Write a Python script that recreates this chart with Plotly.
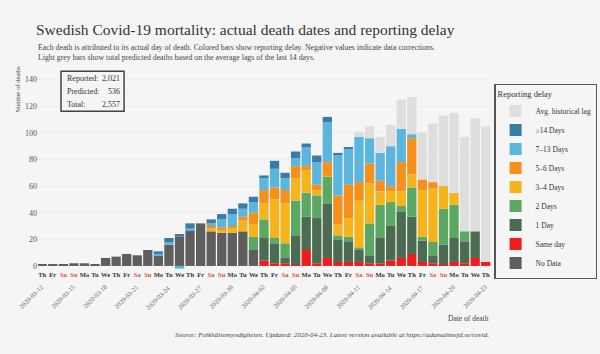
import plotly.graph_objects as go

dates = ["2020-03-12","2020-03-13","2020-03-14","2020-03-15","2020-03-16","2020-03-17","2020-03-18",
         "2020-03-19","2020-03-20","2020-03-21","2020-03-22","2020-03-23","2020-03-24","2020-03-25",
         "2020-03-26","2020-03-27","2020-03-28","2020-03-29","2020-03-30","2020-03-31","2020-04-01",
         "2020-04-02","2020-04-03","2020-04-04","2020-04-05","2020-04-06","2020-04-07","2020-04-08",
         "2020-04-09","2020-04-10","2020-04-11","2020-04-12","2020-04-13","2020-04-14","2020-04-15",
         "2020-04-16","2020-04-17","2020-04-18","2020-04-19","2020-04-20","2020-04-21","2020-04-22",
         "2020-04-23"]
weekdays = ["Th","Fr","Sa","Su","Mo","Tu","We"] * 6 + ["Th"]
date_labels = dates[::3]

no_data  = [1,1,1,2,2,1,6,7,9,8,12,8,16,22,27,32,26,25,25,26,12,0,0,0,0,0,0,0,0,0,0,0,0,0,0,0,0,0,0,0,0,0,0]
same_day = [0,0,0,0,0,0,0,0,0,0,0,0,0,0,0,0,0,0,0,0,0,4,2,2,1,12,2,6,3,3,3,2,2,4,6,9,3,2,1,3,2,6,3]
day1     = [0,0,0,0,0,0,0,0,0,0,0,0,0,0,0,0,0,0,0,0,0,17,15,4,22,25,34,41,17,15,9,6,19,26,35,28,16,6,15,18,16,20,0]
day2     = [0,0,0,0,0,0,0,0,0,0,0,0,0,0,0,0,0,0,0,0,10,14,4,11,26,18,17,20,3,4,2,24,25,18,4,22,3,10,27,25,8,0,0]
days3_4  = [0,0,0,0,0,0,0,0,0,0,0,0,0,0,0,0,2,2,4,8,9,12,29,30,17,17,4,1,8,14,35,30,10,8,11,10,35,40,17,9,0,0,0]
days5_6  = [0,0,0,0,0,0,0,0,0,0,0,0,0,0,0,0,2,2,1,3,9,10,9,10,9,3,4,10,22,25,14,15,8,4,22,27,8,5,0,0,0,0,0]
days7_13 = [0,0,0,0,0,0,0,0,0,0,0,1,2,-2,1,0,2,6,9,6,8,9,14,9,6,14,17,30,30,27,34,19,21,30,25,3,0,0,0,0,0,0,0]
days14   = [0,0,0,0,0,0,0,0,0,0,0,2,3,2,4,0,3,4,4,4,4,2,6,4,5,3,5,4,2,1,0,0,0,0,0,0,0,0,0,0,0,0,0]
avg_lag  = [0,0,0,0,0,0,0,0,0,0,0,0,0,0,0,0,0,0,0,0,0,0,0,0,0,0,0,0,0,0,4,9,12,16,22,28,35,44,53,60,71,85,102]

series_names  = ["No Data","Same day","1 Day","2 Days","3–4 Days","5–6 Days","7–13 Days","≥14 Days","Avg. historical lag"]
series_values = [no_data, same_day, day1, day2, days3_4, days5_6, days7_13, days14, avg_lag]
series_colors = ["#5e5e5e","#ee1c1c","#4b6b53","#5aa862","#f5b41c","#f5901a","#5bb5dd","#3b7ca6","#dedede"]

stats_labels = ["Reported:", "Predicted:", "Total:"]
stats_values = ["2,021", "536", "2,557"]

FONT = "Liberation Serif"
BG = "#f5f5f5"

fig = go.Figure()
for name, vals, col in zip(series_names, series_values, series_colors):
    fig.add_bar(x=dates, y=vals, name=name, marker=dict(color=col, line=dict(width=0)))

# layout geometry
L, R, T, B = 38, 109.4, 70.7, 84.9
W = 600 - L - R
H = 354 - T - B
def px_x(x):  # pixel -> paper x
    return (x - L) / W
def px_y(y):  # pixel -> paper y
    return (354 - B - y) / H

tick_text = []
for d in weekdays:
    if d in ("Sa", "Su"):
        tick_text.append("<span style='color:#e04a40'>" + d + "</span>")
    else:
        tick_text.append(d)

annotations = []
for lab in date_labels:
    annotations.append(dict(x=lab, y=px_y(281), xref="x", yref="paper", text=lab,
                            textangle=-45, xanchor="right", yanchor="top", xshift=5,
                            showarrow=False, font=dict(family=FONT, size=6.5, color="#666")))

annotations.append(dict(x=px_x(36), y=px_y(41), xref="paper", yref="paper", xanchor="left", yanchor="top",
                        align="left", showarrow=False,
                        text="Each death is attributed to its actual day of death. Colored bars show reporting delay. Negative values indicate data corrections.<br>"
                             "Light grey bars show total predicted deaths based on the average lags of the last 14 days.",
                        font=dict(family=FONT, size=7.8, color="#444")))
annotations.append(dict(x=px_x(18), y=px_y(63), xref="paper", yref="paper", xanchor="center", yanchor="top",
                        textangle=-90, showarrow=False, text="Number of deaths",
                        font=dict(family=FONT, size=6.5, color="#444")))
annotations.append(dict(x=1.0, y=px_y(319), xref="paper", yref="paper", xanchor="right", yanchor="middle",
                        showarrow=False, text="Date of death", font=dict(family=FONT, size=7.5, color="#444")))
annotations.append(dict(x=1.0, y=px_y(335), xref="paper", yref="paper", xanchor="right", yanchor="middle",
                        showarrow=False,
                        text="<i>Source: Folkhälsomyndigheten. Updated: 2020-04-23. Latest version available at https://adamaltmejd.se/covid.</i>",
                        font=dict(family=FONT, size=7, color="#444")))
for k, (lab, val) in enumerate(zip(stats_labels, stats_values)):
    yy = px_y(78 + 13 * k)
    annotations.append(dict(x=px_x(64.5), y=yy, xref="paper", yref="paper", xanchor="left", yanchor="middle",
                            showarrow=False, text=lab, font=dict(family=FONT, size=8, color="#333")))
    annotations.append(dict(x=px_x(121.5), y=yy, xref="paper", yref="paper", xanchor="right", yanchor="middle",
                            showarrow=False, text=val, font=dict(family=FONT, size=8, color="#333")))

fig.update_layout(
    width=600, height=354,
    margin=dict(l=L, r=R, t=T, b=B, autoexpand=False),
    paper_bgcolor=BG, plot_bgcolor=BG,
    barmode="relative", bargap=0.12,
    font=dict(family=FONT, color="#444"),
    title=dict(text="Swedish Covid-19 mortality: actual death dates and reporting delay",
               x=36 / 600, xref="container", xanchor="left",
               y=1 - 30 / 354, yref="container", yanchor="middle",
               font=dict(family=FONT, size=15.5, color="#333")),
    xaxis=dict(type="category", range=[-0.4, 42.5], tickmode="array", tickvals=dates, ticktext=tick_text,
               tickfont=dict(family=FONT, size=6.5, color="#333", weight="bold"), showgrid=False,
               ticks="", zeroline=False, showline=False, tickangle=0),
    yaxis=dict(range=[-2.3, 146.5], tickvals=[0, 20, 40, 60, 80, 100, 120, 140],
               tickfont=dict(family=FONT, size=8, color="#555"), showgrid=True, gridcolor="#eeeeee",
               gridwidth=0.6, zeroline=False, ticks=""),
    legend=dict(title=dict(text="Reporting delay", font=dict(family=FONT, size=8.5, color="#333")),
                traceorder="reversed", x=px_x(494), xanchor="left", y=px_y(84), yanchor="top",
                bordercolor="#555", borderwidth=1.2, bgcolor=BG,
                font=dict(family=FONT, size=7.5, color="#333")),
    shapes=[dict(type="rect", xref="paper", yref="paper", x0=px_x(61), x1=px_x(124), y0=px_y(111), y1=px_y(71),
                 line=dict(color="#444", width=1.5), fillcolor=BG, layer="above")],
    annotations=annotations,
)

fig.write_html("out.html")
